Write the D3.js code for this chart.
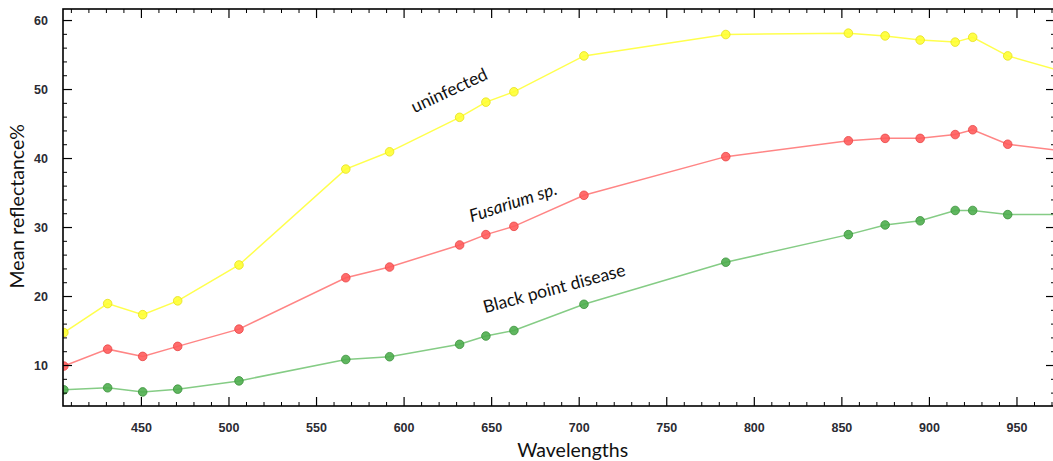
<!DOCTYPE html>
<html>
<head>
<meta charset="utf-8">
<script src="https://cdn.jsdelivr.net/npm/d3@7"></script>
<style>
  html, body { margin: 0; padding: 0; background: #ffffff; }
  svg { display: block; }
</style>
</head>
<body>
<svg id="chart" width="1053" height="461"></svg>
<script>
// ---- data ----
const wavelengths = [406, 431, 451, 471, 506, 567, 592, 632, 647, 663, 703, 784, 854, 875, 895, 915, 925, 945, 980];
const uninfected  = [14.7, 18.9, 17.3, 19.3, 24.5, 38.4, 40.9, 45.9, 48.1, 49.6, 54.8, 57.9, 58.1, 57.7, 57.1, 56.8, 57.5, 54.8, 52.3];
const fusarium    = [9.85, 12.3, 11.25, 12.7, 15.2, 22.65, 24.2, 27.4, 28.9, 30.1, 34.6, 40.2, 42.5, 42.85, 42.85, 43.4, 44.1, 42.0, 40.9];
const blackPoint  = [6.4, 6.7, 6.1, 6.5, 7.7, 10.8, 11.2, 13.0, 14.2, 15.0, 18.8, 24.9, 28.9, 30.3, 30.9, 32.4, 32.4, 31.8, 31.8];
const seriesNames = ["uninfected", "Fusarium sp.", "Black point disease"];
const xTickValues = [450, 500, 550, 600, 650, 700, 750, 800, 850, 900, 950];
const yTickValues = [10, 20, 30, 40, 50, 60];
const xTitle = "Wavelengths";
const yTitle = "Mean reflectance%";

// ---- layout ----
const pLeft = 63, pRight = 1055, pTop = 9, pBottom = 406;
const svg = d3.select("#chart");

const x = d3.scaleLinear().domain([405.5, 972]).range([pLeft, pRight]);
const y = d3.scaleLinear().domain([4.06, 61.6]).range([pBottom, pTop]);

const styles = [
  { name: seriesNames[0], values: uninfected, line: "#ffff4d", fill: "#ffff33", stroke: "#e6e01a" },
  { name: seriesNames[1], values: fusarium,   line: "#ff8585", fill: "#ff5c5c", stroke: "#e84545" },
  { name: seriesNames[2], values: blackPoint, line: "#85cc85", fill: "#4fae4f", stroke: "#3a923a" }
];

svg.append("defs").append("clipPath").attr("id", "plotClip")
  .append("rect").attr("x", pLeft).attr("y", pTop)
  .attr("width", pRight - pLeft).attr("height", pBottom - pTop);

const plot = svg.append("g").attr("clip-path", "url(#plotClip)");

const lineGen = d3.line().x((d, i) => x(wavelengths[i])).y(d => y(d));

styles.forEach(s => {
  plot.append("path")
    .datum(s.values)
    .attr("fill", "none")
    .attr("stroke", s.line)
    .attr("stroke-width", 1.5)
    .attr("d", lineGen);
});
styles.forEach(s => {
  plot.selectAll(null)
    .data(s.values)
    .enter().append("circle")
    .attr("cx", (d, i) => x(wavelengths[i]))
    .attr("cy", d => y(d))
    .attr("r", 4.3)
    .attr("fill", s.fill)
    .attr("fill-opacity", 0.9)
    .attr("stroke", s.stroke)
    .attr("stroke-width", 0.8);
});

// ---- axes ----
const tickColor = "#000";
const labelFont = "Liberation Sans, Arial, sans-serif";

const xMinor = d3.range(410, 972, 10).filter(v => !xTickValues.includes(v));
const yMinor = d3.range(6, 61.6, 2).filter(v => !yTickValues.includes(v));

// bottom axis
const xAxisB = svg.append("g").attr("transform", `translate(0,${pBottom})`)
  .call(d3.axisBottom(x).tickValues(xTickValues).tickSizeInner(-9).tickSizeOuter(0).tickPadding(17));
xAxisB.selectAll(".domain").remove();
xAxisB.selectAll("line").attr("stroke", tickColor).attr("stroke-width", 1.2);
xAxisB.selectAll("text").attr("font-family", labelFont).attr("font-size", 12.5)
  .attr("font-weight", "bold").attr("fill", "#2b2b33");
svg.append("g").attr("transform", `translate(0,${pBottom})`)
  .call(d3.axisBottom(x).tickValues(xMinor).tickSizeInner(-4).tickSizeOuter(0).tickFormat(""))
  .call(g => g.select(".domain").remove())
  .selectAll("line").attr("stroke", tickColor);

// top axis (ticks only)
svg.append("g").attr("transform", `translate(0,${pTop})`)
  .call(d3.axisTop(x).tickValues(xTickValues).tickSizeInner(-9).tickSizeOuter(0).tickFormat(""))
  .call(g => g.select(".domain").remove())
  .selectAll("line").attr("stroke", tickColor).attr("stroke-width", 1.2);
svg.append("g").attr("transform", `translate(0,${pTop})`)
  .call(d3.axisTop(x).tickValues(xMinor).tickSizeInner(-4).tickSizeOuter(0).tickFormat(""))
  .call(g => g.select(".domain").remove())
  .selectAll("line").attr("stroke", tickColor);

// left axis
const yAxisL = svg.append("g").attr("transform", `translate(${pLeft},0)`)
  .call(d3.axisLeft(y).tickValues(yTickValues).tickSizeInner(-9).tickSizeOuter(0).tickPadding(15));
yAxisL.selectAll(".domain").remove();
yAxisL.selectAll("line").attr("stroke", tickColor).attr("stroke-width", 1.2);
yAxisL.selectAll("text").attr("font-family", labelFont).attr("font-size", 12.5)
  .attr("font-weight", "bold").attr("fill", "#2b2b33");
svg.append("g").attr("transform", `translate(${pLeft},0)`)
  .call(d3.axisLeft(y).tickValues(yMinor).tickSizeInner(-4).tickSizeOuter(0).tickFormat(""))
  .call(g => g.select(".domain").remove())
  .selectAll("line").attr("stroke", tickColor);

// right axis (ticks only)
svg.append("g").attr("transform", `translate(${pRight},0)`)
  .call(d3.axisRight(y).tickValues(yTickValues).tickSizeInner(-9).tickSizeOuter(0).tickFormat(""))
  .call(g => g.select(".domain").remove())
  .selectAll("line").attr("stroke", tickColor).attr("stroke-width", 1.2);
svg.append("g").attr("transform", `translate(${pRight},0)`)
  .call(d3.axisRight(y).tickValues(yMinor).tickSizeInner(-4).tickSizeOuter(0).tickFormat(""))
  .call(g => g.select(".domain").remove())
  .selectAll("line").attr("stroke", tickColor);

// frame
svg.append("rect")
  .attr("x", pLeft).attr("y", pTop)
  .attr("width", pRight - pLeft).attr("height", pBottom - pTop)
  .attr("fill", "none").attr("stroke", "#000").attr("stroke-width", 1.6);

// ---- titles ----
const titleFont = "Lato, 'Open Sans', sans-serif";
svg.append("text")
  .attr("x", (x(450) + x(950)) / 2 - 6).attr("y", 457)
  .attr("text-anchor", "middle")
  .attr("font-family", titleFont).attr("font-size", 19.5).attr("fill", "#111")
  .text(xTitle);
svg.append("text")
  .attr("transform", `translate(24,${y(33)}) rotate(-90)`)
  .attr("text-anchor", "middle")
  .attr("font-family", titleFont).attr("font-size", 19.5).attr("fill", "#111")
  .text(yTitle);

// ---- series labels ----
const labelSpecs = [
  { text: seriesNames[0], cx: 449, cy: 90, angle: -25, italic: false },
  { text: seriesNames[1], cx: 513, cy: 202, angle: -18, italic: true },
  { text: seriesNames[2], cx: 554, cy: 288, angle: -15, italic: false }
];
labelSpecs.forEach(l => {
  svg.append("text")
    .attr("transform", `translate(${l.cx},${l.cy}) rotate(${l.angle})`)
    .attr("text-anchor", "middle")
    .attr("dominant-baseline", "central")
    .attr("font-family", titleFont)
    .attr("font-size", 17.5)
    .attr("font-style", l.italic ? "italic" : "normal")
    .attr("fill", "#111")
    .text(l.text);
});
</script>
</body>
</html>
